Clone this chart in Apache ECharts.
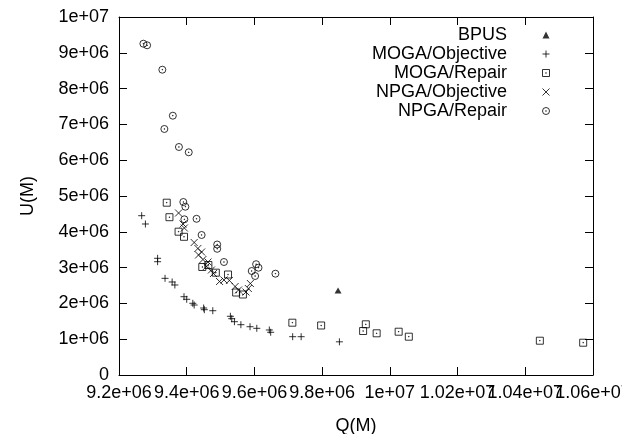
<!DOCTYPE html>
<html>
<head>
<meta charset="utf-8">
<script src="https://cdn.jsdelivr.net/npm/echarts@6/dist/echarts.min.js"></script>
<style>html,body{margin:0;padding:0;background:#fff}#c{width:622px;height:434px}</style>
</head>
<body>
<div id="c"></div>
<script>
var seriesNames = ['BPUS', 'MOGA/Objective', 'MOGA/Repair', 'NPGA/Objective', 'NPGA/Repair'];
var xTickLabels = ['9.2e+06', '9.4e+06', '9.6e+06', '9.8e+06', '1e+07', '1.02e+07', '1.04e+07', '1.06e+07'];
var yTickLabels = ['0', '1e+06', '2e+06', '3e+06', '4e+06', '5e+06', '6e+06', '7e+06', '8e+06', '9e+06', '1e+07'];

var bpus = [[9847000, 2360000]];
var mogaObjective = [
  [9267000, 4450000], [9278000, 4218000], [9314000, 3260000], [9314000, 3165000], [9336000, 2700000],
  [9357000, 2598000], [9365000, 2514000], [9392000, 2187000], [9400000, 2115000], [9418000, 2003000],
  [9422000, 1955000], [9450000, 1871000], [9452000, 1824000], [9477000, 1796000], [9529000, 1640000],
  [9533000, 1573000], [9541000, 1489000], [9560000, 1405000], [9587000, 1349000], [9607000, 1304000],
  [9644000, 1257000], [9648000, 1193000], [9713000, 1070000], [9738000, 1070000], [9851000, 927000]
];
var mogaRepair = [
  [9341000, 4813000], [9349000, 4408000], [9376000, 4003000], [9392000, 3860000], [9446000, 3017000],
  [9464000, 3073000], [9486000, 2858000], [9522000, 2807000], [9546000, 2304000], [9566000, 2249000],
  [9712000, 1461000], [9797000, 1383000], [9929000, 1416000], [9921000, 1229000], [9961000, 1165000],
  [10026000, 1209000], [10056000, 1070000], [10443000, 958000], [10571000, 902000]
];
var npgaObjective = [
  [9376000, 4525000], [9389000, 4218000], [9393000, 4106000], [9422000, 3701000], [9433000, 3534000],
  [9444000, 3436000], [9435000, 3352000], [9448000, 3226000], [9463000, 3156000], [9458000, 3031000],
  [9473000, 2933000], [9479000, 2835000], [9497000, 2612000], [9510000, 2654000], [9526000, 2640000],
  [9543000, 2472000], [9553000, 2374000], [9582000, 2416000], [9588000, 2556000], [9575000, 2318000]
];
var npgaRepair = [
  [9272000, 9254000], [9283000, 9210000], [9328000, 8528000], [9359000, 7243000], [9334000, 6872000],
  [9377000, 6369000], [9406000, 6221000], [9390000, 4832000], [9396000, 4701000], [9429000, 4363000],
  [9393000, 4349000], [9444000, 3911000], [9490000, 3645000], [9490000, 3525000], [9510000, 3156000],
  [9605000, 3095000], [9612000, 2997000], [9592000, 2905000], [9602000, 2765000], [9662000, 2830000]
];

var X_MIN = 9200000, X_MAX = 10600000, X_INT = 200000;
var Y_MIN = 0, Y_MAX = 10000000, Y_INT = 1000000;

var SYM = {
  tri: 'path://M0,10L5,0L10,10Z',
  plus: 'path://M5,0L5,10M0,5L10,5',
  square: 'path://M0,0L10,0L10,10L0,10ZM4.6,4.6L5.4,4.6L5.4,5.4L4.6,5.4Z',
  cross: 'path://M0,0L10,10M10,0L0,10',
  circle: 'path://M5,0A5,5,0,1,1,5,10A5,5,0,1,1,5,0ZM4.6,4.6L5.4,4.6L5.4,5.4L4.6,5.4Z'
};

var FONT = 'Liberation Sans';
var FS = 18;

function xIdx(v) { return Math.round((v - X_MIN) / X_INT); }
// alternate labels between two bottom axes so ECharts' min/max overlap check never drops one
function xFmtEven(v) { var i = xIdx(v); return (i % 2 === 0) ? (xTickLabels[i] || '') : ''; }
function xFmtOdd(v) { var i = xIdx(v); return (i % 2 === 1) ? (xTickLabels[i] || '') : ''; }
function yFmt(v) { var i = Math.round((v - Y_MIN) / Y_INT); return yTickLabels[i] || ''; }

function axisBase(isX, pos, showLabel, fmt) {
  return {
    type: 'value',
    position: pos,
    min: isX ? X_MIN : Y_MIN,
    max: isX ? X_MAX : Y_MAX,
    interval: isX ? X_INT : Y_INT,
    axisLine: { show: true, onZero: false, lineStyle: { color: '#000', width: 1 } },
    axisTick: { show: true, inside: true, length: 8, lineStyle: { color: '#000', width: 1 } },
    minorTick: { show: false },
    splitLine: { show: false },
    axisLabel: {
      show: showLabel,
      color: '#000',
      fontFamily: FONT,
      fontSize: FS,
      margin: isX ? 9 : 10,
      hideOverlap: false,
      showMinLabel: true,
      showMaxLabel: true,
      formatter: fmt
    }
  };
}

var xAxisMain = axisBase(true, 'bottom', true, xFmtEven);
xAxisMain.name = 'Q(M)';
xAxisMain.nameLocation = 'middle';
xAxisMain.nameGap = 42;
xAxisMain.nameTextStyle = { color: '#000', fontFamily: FONT, fontSize: FS };
var xAxisTop = axisBase(true, 'top', false, xFmtEven);
var xAxisOddLabels = axisBase(true, 'bottom', true, xFmtOdd);
xAxisOddLabels.axisLine = { show: false };
xAxisOddLabels.axisTick = { show: false };

var yAxisMain = axisBase(false, 'left', true, yFmt);
yAxisMain.name = 'U(M)';
yAxisMain.nameLocation = 'middle';
yAxisMain.nameGap = 82;
yAxisMain.nameRotate = 90;
yAxisMain.nameTextStyle = { color: '#000', fontFamily: FONT, fontSize: FS };
var yAxisRight = axisBase(false, 'right', false, yFmt);

function mkSeries(name, data, symbol, size, filled) {
  return {
    name: name,
    type: 'scatter',
    xAxisIndex: 0,
    yAxisIndex: 0,
    data: data,
    symbol: symbol,
    symbolSize: size,
    symbolKeepAspect: false,
    itemStyle: filled
      ? { color: '#000', borderWidth: 0 }
      : { color: 'rgba(0,0,0,0)', borderColor: '#000', borderWidth: 1 },
    emphasis: { disabled: true },
    silent: true
  };
}

var chart = echarts.init(document.getElementById('c'), null, { renderer: 'canvas' });
chart.setOption({
  animation: false,
  backgroundColor: '#fff',
  textStyle: { fontFamily: FONT },
  grid: { left: 119, right: 29, top: 17, bottom: 59, containLabel: false, outerBoundsMode: 'none' },
  xAxis: [xAxisMain, xAxisTop, xAxisOddLabels],
  yAxis: [yAxisMain, yAxisRight],
  legend: {
    show: true,
    orient: 'vertical',
    align: 'right',
    right: 72,
    top: 26,
    padding: 0,
    itemGap: 1,
    itemWidth: 68,
    itemHeight: 7,
    symbolKeepAspect: true,
    selectedMode: false,
    textStyle: { color: '#000', fontFamily: FONT, fontSize: FS, lineHeight: 18 },
    data: [
      { name: seriesNames[0], itemStyle: { color: '#000', borderWidth: 0 } },
      { name: seriesNames[1], itemStyle: { color: 'rgba(0,0,0,0)', borderColor: '#000', borderWidth: 1 } },
      { name: seriesNames[2], itemStyle: { color: 'rgba(0,0,0,0)', borderColor: '#000', borderWidth: 1 } },
      { name: seriesNames[3], itemStyle: { color: 'rgba(0,0,0,0)', borderColor: '#000', borderWidth: 1 } },
      { name: seriesNames[4], itemStyle: { color: 'rgba(0,0,0,0)', borderColor: '#000', borderWidth: 1 } }
    ]
  },
  series: [
    mkSeries(seriesNames[0], bpus, SYM.tri, [7, 6], true),
    mkSeries(seriesNames[1], mogaObjective, SYM.plus, 7, false),
    mkSeries(seriesNames[2], mogaRepair, SYM.square, 7, false),
    mkSeries(seriesNames[3], npgaObjective, SYM.cross, 7, false),
    mkSeries(seriesNames[4], npgaRepair, SYM.circle, 7, false)
  ]
});
</script>
</body>
</html>
